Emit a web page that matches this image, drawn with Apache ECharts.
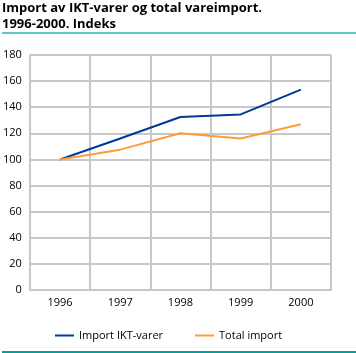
<!DOCTYPE html>
<html>
<head>
<meta charset="utf-8">
<script src="https://cdn.jsdelivr.net/npm/echarts@6/dist/echarts.min.js"></script>
<style>
  html, body { margin: 0; padding: 0; background: #fff; }
  #chart { width: 356px; height: 353px; }
</style>
</head>
<body>
<div id="chart"></div>
<script>
const years = ['1996', '1997', '1998', '1999', '2000']
const ikt = [100, 116, 132.5, 134.5, 153.5]
const total = [100, 107.5, 120, 116, 127]

const chart = echarts.init(document.getElementById('chart'))
chart.setOption({
  animation: false,
  title: {
    text: 'Import av IKT-varer og total vareimport.\n1996-2000. Indeks',
    left: 2,
    top: 0,
    padding: 0,
    textStyle: {
      fontFamily: 'Open Sans',
      fontWeight: 'bold',
      fontSize: 13,
      lineHeight: 16,
      color: '#000'
    }
  },
  graphic: [
    { type: 'rect', shape: { x: 2, y: 32, width: 354, height: 2 }, style: { fill: '#5ec8c6' } },
    { type: 'rect', shape: { x: 2, y: 351, width: 354, height: 2 }, style: { fill: '#00a19a' } }
  ],
  legend: {
    bottom: 7,
    left: 50,
    itemGap: 32,
    itemWidth: 19,
    itemHeight: 2,
    icon: 'rect',
    textStyle: { fontFamily: 'Open Sans', fontSize: 11, color: '#000' },
    data: ['Import IKT-varer', 'Total import']
  },
  grid: { left: 25, right: 25, top: 55, bottom: 63 },
  xAxis: {
    type: 'category',
    data: years,
    boundaryGap: true,
    axisLine: { lineStyle: { color: '#c8c8c8', width: 2 } },
    axisTick: { show: false },
    axisLabel: { color: '#000', fontFamily: 'Open Sans', fontSize: 11, margin: 7 },
    splitLine: { show: true, lineStyle: { color: '#c8c8c8', width: 2 } }
  },
  yAxis: {
    type: 'value',
    min: 0,
    max: 180,
    interval: 20,
    axisLine: { show: true, lineStyle: { color: '#c8c8c8', width: 2 } },
    axisTick: { show: false },
    axisLabel: { color: '#000', fontFamily: 'Open Sans', fontSize: 11, margin: 8 },
    splitLine: { lineStyle: { color: '#c8c8c8', width: 2 } }
  },
  series: [
    {
      name: 'Import IKT-varer',
      type: 'line',
      data: ikt,
      symbol: 'none',
      color: '#003a96',
      lineStyle: { width: 2 }
    },
    {
      name: 'Total import',
      type: 'line',
      data: total,
      symbol: 'none',
      color: '#ff9c3a',
      lineStyle: { width: 2 }
    }
  ]
})
</script>
</body>
</html>
